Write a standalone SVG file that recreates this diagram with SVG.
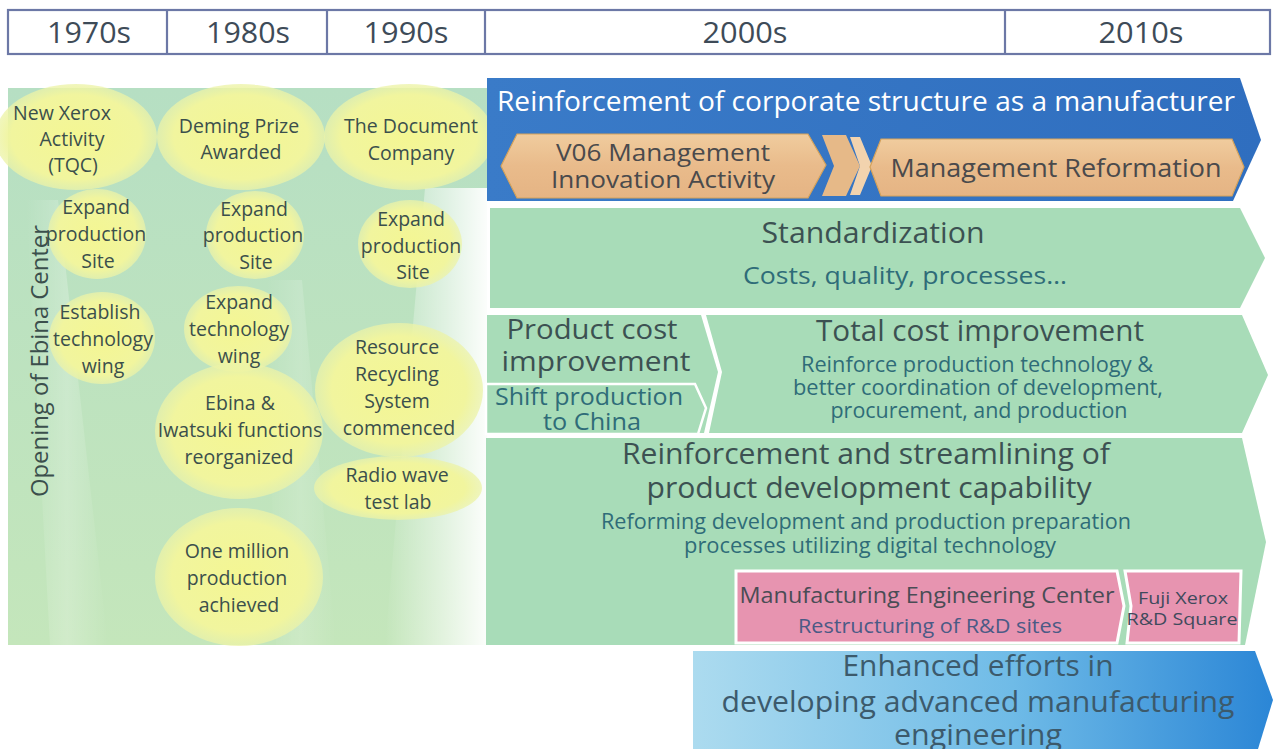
<svg xmlns="http://www.w3.org/2000/svg" width="1277" height="749" viewBox="0 0 1277 749">
<defs>
<linearGradient id="panelG" x1="0" y1="0" x2="0" y2="1">
<stop offset="0" stop-color="#b6dfc3"/><stop offset="1" stop-color="#c4e6bb"/>
</linearGradient>
<radialGradient id="yel" cx="0.5" cy="0.5" r="0.5">
<stop offset="0" stop-color="#f4f693"/><stop offset="0.8" stop-color="#f1f59e"/><stop offset="1" stop-color="#ecf3a8" stop-opacity="0.75"/>
</radialGradient>
<linearGradient id="blueTop" x1="0" y1="0" x2="1" y2="0">
<stop offset="0" stop-color="#3a7bc8"/><stop offset="1" stop-color="#2f6ebf"/>
</linearGradient>
<linearGradient id="orange" x1="0" y1="0" x2="0" y2="1">
<stop offset="0" stop-color="#f0cc9e"/><stop offset="0.5" stop-color="#e9bb8b"/><stop offset="1" stop-color="#e5b484"/>
</linearGradient>
<linearGradient id="blueBot" x1="0" y1="0" x2="1" y2="0">
<stop offset="0" stop-color="#acdbef"/><stop offset="0.55" stop-color="#6fbbe7"/><stop offset="1" stop-color="#2b86d6"/>
</linearGradient>
<linearGradient id="rightBand" x1="0" y1="0" x2="1" y2="0">
<stop offset="0" stop-color="#ffffff" stop-opacity="0"/><stop offset="0.6" stop-color="#ffffff" stop-opacity="0.55"/><stop offset="1" stop-color="#ffffff" stop-opacity="0.95"/>
</linearGradient>
<linearGradient id="leftBand" x1="0" y1="0" x2="1" y2="0">
<stop offset="0" stop-color="#ffffff" stop-opacity="0"/><stop offset="0.5" stop-color="#ffffff" stop-opacity="0.22"/><stop offset="1" stop-color="#ffffff" stop-opacity="0"/>
</linearGradient>
</defs>
<style>
text{font-family:"Open Sans","Liberation Sans",sans-serif;text-anchor:middle}
.hdr{font-size:29px;fill:#3e4b58}
.lt{font-size:19.5px;fill:#3b4f4c}
.ell{fill:url(#yel)}
.grn{fill:#a8dcb8}
.ttl{fill:#3c5152}
.sub{fill:#2f6c78}
.wht{fill:#ffffff}
.org{fill:url(#orange);stroke:#d5a25a;stroke-width:1.2}
.pink{fill:#e794b0;stroke:#ffffff;stroke-width:3}
.dk{fill:#4a4a4c}
</style>
<rect x="0" y="0" width="1277" height="749" fill="#ffffff"/>

<g id="header">
<rect x="8" y="10" width="1262" height="44" fill="#ffffff" stroke="#6c78a6" stroke-width="2.2"/>
<line x1="167" y1="10" x2="167" y2="54" stroke="#6c78a6" stroke-width="2.2"/>
<line x1="327" y1="10" x2="327" y2="54" stroke="#6c78a6" stroke-width="2.2"/>
<line x1="485" y1="10" x2="485" y2="54" stroke="#6c78a6" stroke-width="2.2"/>
<line x1="1005" y1="10" x2="1005" y2="54" stroke="#6c78a6" stroke-width="2.2"/>
<text class="hdr" x="89" y="43" textLength="84" lengthAdjust="spacingAndGlyphs">1970s</text>
<text class="hdr" x="248" y="43" textLength="84" lengthAdjust="spacingAndGlyphs">1980s</text>
<text class="hdr" x="406" y="43" textLength="85" lengthAdjust="spacingAndGlyphs">1990s</text>
<text class="hdr" x="745" y="43" textLength="85" lengthAdjust="spacingAndGlyphs">2000s</text>
<text class="hdr" x="1141" y="43" textLength="85" lengthAdjust="spacingAndGlyphs">2010s</text>
</g>

<g id="left-panel">
<rect x="8" y="88" width="479" height="557" fill="url(#panelG)"/>
<polygon points="26,200 58,200 108,645 50,645" fill="url(#leftBand)"/>
<polygon points="266,280 302,280 336,645 276,645" fill="url(#leftBand)" opacity="0.7"/>
<polygon points="425,188 487,188 487,645 385,645" fill="url(#rightBand)"/>
</g>

<g id="bubbles">
<ellipse class="ell" cx="76" cy="137" rx="81" ry="53"/>
<ellipse class="ell" cx="241" cy="137" rx="84" ry="53"/>
<ellipse class="ell" cx="409" cy="137" rx="85" ry="53"/>
<ellipse class="ell" cx="97" cy="234" rx="49" ry="45"/>
<ellipse class="ell" cx="255" cy="235" rx="49" ry="44"/>
<ellipse class="ell" cx="410" cy="244" rx="52" ry="44"/>
<ellipse class="ell" cx="102" cy="338" rx="53" ry="46"/>
<ellipse class="ell" cx="238" cy="329" rx="54" ry="43"/>
<ellipse class="ell" cx="239" cy="431" rx="84" ry="68"/>
<ellipse class="ell" cx="399" cy="390" rx="84" ry="67"/>
<ellipse class="ell" cx="398" cy="488" rx="84" ry="32"/>
<ellipse class="ell" cx="239" cy="577" rx="84" ry="69"/>
</g>

<g id="n-opening">
<text class="lt" transform="translate(48,361) rotate(-90)" style="font-size:23px" fill="#355a63" textLength="272" lengthAdjust="spacingAndGlyphs">Opening of Ebina Center</text>
</g>
<g id="n-newxerox">
<text class="lt" x="62" y="120">New Xerox</text>
<text class="lt" x="72" y="146">Activity</text>
<text class="lt" x="73" y="172">(TQC)</text>
</g>
<g id="n-deming">
<text class="lt" x="239" y="133">Deming Prize</text>
<text class="lt" x="241" y="159">Awarded</text>
</g>
<g id="n-document">
<text class="lt" x="411" y="133">The Document</text>
<text class="lt" x="411" y="160">Company</text>
</g>
<g id="n-expand70">
<text class="lt" x="96" y="214">Expand</text>
<text class="lt" x="96" y="241">production</text>
<text class="lt" x="98" y="268">Site</text>
</g>
<g id="n-expand80">
<text class="lt" x="254" y="216">Expand</text>
<text class="lt" x="253" y="242">production</text>
<text class="lt" x="256" y="269">Site</text>
</g>
<g id="n-expand90">
<text class="lt" x="411" y="226">Expand</text>
<text class="lt" x="411" y="253">production</text>
<text class="lt" x="413" y="279">Site</text>
</g>
<g id="n-establish">
<text class="lt" x="100" y="319">Establish</text>
<text class="lt" x="103" y="346">technology</text>
<text class="lt" x="103" y="373">wing</text>
</g>
<g id="n-techwing80">
<text class="lt" x="239" y="309">Expand</text>
<text class="lt" x="239" y="336">technology</text>
<text class="lt" x="239" y="363">wing</text>
</g>
<g id="n-ebina">
<text class="lt" x="240" y="410">Ebina &amp;</text>
<text class="lt" x="240" y="437">Iwatsuki functions</text>
<text class="lt" x="239" y="464">reorganized</text>
</g>
<g id="n-resource">
<text class="lt" x="397" y="354">Resource</text>
<text class="lt" x="397" y="381">Recycling</text>
<text class="lt" x="397" y="408">System</text>
<text class="lt" x="399" y="435">commenced</text>
</g>
<g id="n-radio">
<text class="lt" x="397" y="482">Radio wave</text>
<text class="lt" x="398" y="509">test lab</text>
</g>
<g id="n-million">
<text class="lt" x="237" y="558">One million</text>
<text class="lt" x="237" y="585">production</text>
<text class="lt" x="239" y="612">achieved</text>
</g>

<g id="n-corporate">
<polygon points="487,78 1240,78 1261,140 1233,201 487,201" fill="url(#blueTop)"/>
<text x="866" y="111" class="wht" style="font-size:27px" textLength="738" lengthAdjust="spacingAndGlyphs">Reinforcement of corporate structure as a manufacturer</text>
</g>
<g id="n-v06">
<polygon class="org" points="501,166 517,134 808,134 826,165 808,198 517,198"/>
<text class="dk" x="663" y="161" style="font-size:24px" textLength="214" lengthAdjust="spacingAndGlyphs">V06 Management</text>
<text class="dk" x="663" y="188" style="font-size:24px" textLength="224" lengthAdjust="spacingAndGlyphs">Innovation Activity</text>
</g>
<g id="n-chevrons">
<polygon points="822,135 846,135 860,166 846,196 822,196 834,166" fill="#e6b988"/>
<polygon points="850,137 860,137 872,166 860,195 850,195 860,166" fill="#f2d3ae"/>
</g>
<g id="n-reform">
<polygon class="org" points="870,167 881,139 1232,139 1244,167 1232,196 881,196"/>
<text class="dk" x="1056" y="177" style="font-size:26px" textLength="331" lengthAdjust="spacingAndGlyphs">Management Reformation</text>
</g>

<g id="n-standardization">
<polygon class="grn" points="490,208 1240,208 1265,258 1240,308 490,308"/>
<text class="ttl" x="873" y="243" style="font-size:29px" textLength="223" lengthAdjust="spacingAndGlyphs">Standardization</text>
<text class="sub" x="905" y="284" style="font-size:24px" textLength="324" lengthAdjust="spacingAndGlyphs">Costs, quality, processes…</text>
</g>

<g id="n-productcost">
<polygon class="grn" points="487,315 701,315 718,372 704,433 487,433"/>
<text class="ttl" x="592" y="339" style="font-size:28px" textLength="171" lengthAdjust="spacingAndGlyphs">Product cost</text>
<text class="ttl" x="596" y="371" style="font-size:28px" textLength="189" lengthAdjust="spacingAndGlyphs">improvement</text>
</g>
<g id="n-shift">
<polygon points="486,384 695,384 706,408 698,434 486,434" fill="#a8dcb8" stroke="#ffffff" stroke-width="2.5"/>
<text class="sub" x="589" y="405" style="font-size:23px" textLength="188" lengthAdjust="spacingAndGlyphs">Shift production</text>
<text class="sub" x="592" y="430" style="font-size:23px" textLength="98" lengthAdjust="spacingAndGlyphs">to China</text>
</g>
<g id="n-totalcost">
<polygon class="grn" points="706,315 1242,315 1268,375 1242,433 709,433 722,372"/>
<text class="ttl" x="980" y="341" style="font-size:29px" textLength="328" lengthAdjust="spacingAndGlyphs">Total cost improvement</text>
<text class="sub" x="977" y="372" style="font-size:21px" textLength="352" lengthAdjust="spacingAndGlyphs">Reinforce production technology &amp;</text>
<text class="sub" x="978" y="395" style="font-size:21px" textLength="370" lengthAdjust="spacingAndGlyphs">better coordination of development,</text>
<text class="sub" x="979" y="418" style="font-size:21px" textLength="297" lengthAdjust="spacingAndGlyphs">procurement, and production</text>
</g>

<g id="n-development">
<polygon class="grn" points="486,438 1242,438 1266,542 1245,645 486,645"/>
<text class="ttl" x="866" y="464" style="font-size:30px" textLength="488" lengthAdjust="spacingAndGlyphs">Reinforcement and streamlining of</text>
<text class="ttl" x="869" y="498" style="font-size:30px" textLength="445" lengthAdjust="spacingAndGlyphs">product development capability</text>
<text class="sub" x="866" y="529" style="font-size:21px" textLength="530" lengthAdjust="spacingAndGlyphs">Reforming development and production preparation</text>
<text class="sub" x="870" y="553" style="font-size:21px" textLength="372" lengthAdjust="spacingAndGlyphs">processes utilizing digital technology</text>
</g>
<g id="n-mec">
<polygon class="pink" points="736,571 1117,571 1124,606 1117,643 736,643"/>
<text x="927" y="603" style="font-size:22px" fill="#4a4c55" textLength="375" lengthAdjust="spacingAndGlyphs">Manufacturing Engineering Center</text>
<text x="930" y="633" style="font-size:20px" fill="#4b5a85" textLength="264" lengthAdjust="spacingAndGlyphs">Restructuring of R&amp;D sites</text>
</g>
<g id="n-rdsquare">
<polygon class="pink" points="1125,571 1241,571 1239,643 1127,643 1131,606"/>
<text x="1183" y="604" style="font-size:17px" fill="#3f4a5c" textLength="90" lengthAdjust="spacingAndGlyphs">Fuji Xerox</text>
<text x="1182" y="625" style="font-size:17px" fill="#3f4a5c" textLength="111" lengthAdjust="spacingAndGlyphs">R&amp;D Square</text>
</g>

<g id="n-advanced">
<polygon points="693,651 1255,651 1273,700 1258,749 693,749" fill="url(#blueBot)"/>
<text x="978" y="676" style="font-size:30px" fill="#3c5a6c" textLength="271" lengthAdjust="spacingAndGlyphs">Enhanced efforts in</text>
<text x="978" y="712" style="font-size:30px" fill="#3c5a6c" textLength="513" lengthAdjust="spacingAndGlyphs">developing advanced manufacturing</text>
<text x="978" y="745" style="font-size:30px" fill="#3c5a6c" textLength="168" lengthAdjust="spacingAndGlyphs">engineering</text>
</g>

<g id="connectors"></g>
</svg>
